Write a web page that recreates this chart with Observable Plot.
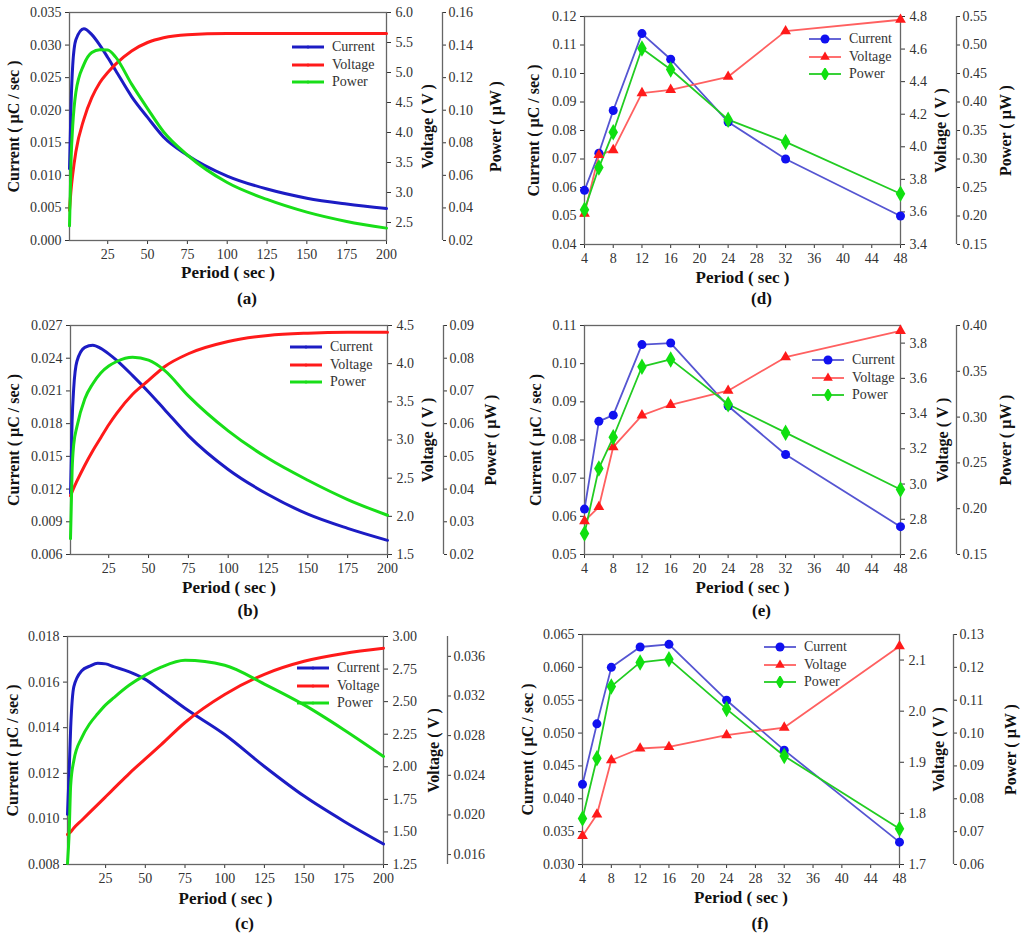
<!DOCTYPE html>
<html><head><meta charset="utf-8">
<script src="https://cdn.jsdelivr.net/npm/d3@7"></script>
<script src="https://cdn.jsdelivr.net/npm/@observablehq/plot@0.6"></script>
<style>
body{margin:0;background:#fff;}
#root{position:relative;width:1024px;height:941px;overflow:hidden;font-family:'Liberation Serif','Times New Roman',Times,'DejaVu Serif',serif;}
.panel{position:absolute;}
.legend{position:absolute;font-size:14px;color:#333;}
.legend .row{display:flex;align-items:center;height:17.5px;}
.legend svg{margin-right:8px;}
</style></head><body><div id="root"></div>
<script>
// ---------- data ----------
const periodCont = [1,2,3,5,10,15,20,25,30,40,50,60,75,100,125,150,175,200];
const periodDisc = [4,6,8,12,16,24,32,48];
const xTicksCont = [25,50,75,100,125,150,175,200];
const xTicksDisc = [4,8,12,16,20,24,28,32,36,40,44,48];
const seriesNames = ["Current","Voltage","Power"];

// (a)
const currentA = [0.0110,0.0210,0.0268,0.0308,0.0325,0.0316,0.0300,0.0281,0.0261,0.0221,0.0189,0.0159,0.0131,0.0099,0.0079,0.0065,0.0056,0.0049];
const voltageA = [2.70,3.05,3.30,3.68,4.22,4.58,4.83,5.00,5.14,5.36,5.50,5.58,5.63,5.65,5.65,5.65,5.65,5.65];
const powerA   = [0.029,0.070,0.090,0.111,0.128,0.1355,0.1372,0.137,0.1326,0.116,0.101,0.0868,0.0725,0.0556,0.0452,0.0374,0.0317,0.0276];
const curTicksA = [0,0.005,0.010,0.015,0.020,0.025,0.030,0.035];
const voltTicksA = [2.5,3.0,3.5,4.0,4.5,5.0,5.5,6.0];
const powTicksA = [0.02,0.04,0.06,0.08,0.10,0.12,0.14,0.16];

// (b)
const currentB = [0.0116,0.0182,0.0212,0.0237,0.0250,0.0252,0.0249,0.0244,0.0238,0.0224,0.0209,0.0193,0.0169,0.0138,0.0115,0.0097,0.0084,0.0073];
const voltageB = [2.27,2.32,2.37,2.46,2.67,2.86,3.03,3.20,3.35,3.60,3.78,3.96,4.13,4.29,4.37,4.40,4.41,4.41];
const powerB   = [0.0248,0.0455,0.0535,0.0590,0.0676,0.0722,0.0755,0.0776,0.0790,0.0803,0.0794,0.0763,0.0685,0.0578,0.0494,0.0427,0.0368,0.0320];
const curTicksB = [0.006,0.009,0.012,0.015,0.018,0.021,0.024,0.027];
const voltTicksB = [1.5,2.0,2.5,3.0,3.5,4.0,4.5];
const powTicksB = [0.02,0.03,0.04,0.05,0.06,0.07,0.08,0.09];

// (c)
const currentC = [0.0102,0.0120,0.0140,0.0158,0.0165,0.0167,0.01683,0.0168,0.01668,0.01645,0.01612,0.01562,0.01485,0.0137,0.0123,0.0110,0.0099,0.0089];
const voltageC = [1.48,1.49,1.50,1.53,1.59,1.65,1.71,1.77,1.83,1.95,2.06,2.17,2.34,2.555,2.71,2.81,2.87,2.91];
const powerC   = [0.0151,0.0180,0.0230,0.0255,0.0278,0.0292,0.0302,0.0311,0.0318,0.0331,0.0341,0.0349,0.0356,0.0351,0.0332,0.0311,0.0286,0.0259];
const curTicksC = [0.008,0.010,0.012,0.014,0.016,0.018];
const voltTicksC = [1.25,1.50,1.75,2.00,2.25,2.50,2.75,3.00];
const powTicksC = [0.016,0.020,0.024,0.028,0.032,0.036];

// (d)
const currentD = [0.059,0.072,0.087,0.114,0.105,0.083,0.070,0.050];
const voltageD = [3.59,3.95,3.98,4.33,4.35,4.43,4.71,4.78];
const powerD   = [0.211,0.285,0.347,0.494,0.457,0.369,0.330,0.239];
const curTicksD = [0.04,0.05,0.06,0.07,0.08,0.09,0.10,0.11,0.12];
const voltTicksD = [3.4,3.6,3.8,4.0,4.2,4.4,4.6,4.8];
const powTicksD = [0.15,0.20,0.25,0.30,0.35,0.40,0.45,0.50,0.55];

// (e)
const currentE = [0.0619,0.0849,0.0865,0.1050,0.1054,0.0889,0.0762,0.0573];
const voltageE = [2.79,2.87,3.21,3.39,3.45,3.53,3.72,3.87];
const powerE   = [0.173,0.244,0.278,0.355,0.363,0.314,0.283,0.221];
const curTicksE = [0.05,0.06,0.07,0.08,0.09,0.10,0.11];
const voltTicksE = [2.6,2.8,3.0,3.2,3.4,3.6,3.8];
const powTicksE = [0.15,0.20,0.25,0.30,0.35,0.40];

// (f)
const currentF = [0.0422,0.0514,0.0600,0.0631,0.0635,0.0550,0.0474,0.0334];
const voltageF = [1.756,1.798,1.904,1.927,1.930,1.953,1.968,2.127];
const powerF   = [0.0740,0.0923,0.1142,0.1215,0.1225,0.1073,0.0930,0.0709];
const curTicksF = [0.030,0.035,0.040,0.045,0.050,0.055,0.060,0.065];
const voltTicksF = [1.7,1.8,1.9,2.0,2.1];
const powTicksF = [0.06,0.07,0.08,0.09,0.10,0.11,0.12,0.13];

// ---------- panels ----------
const panels = [
  {cap:"(a)", left:0, top:0, width:512, height:312, frame:[69,386,12,240], x:periodCont, xDomain:[1,200], xTicks:xTicksCont,
   cur:currentA, volt:voltageA, pow:powerA, curDomain:[0,0.035], curTicks:curTicksA, curFmt:".3f",
   voltDomain:[2.2,6.0], voltTicks:voltTicksA, voltFmt:".1f", powDomain:[0.02,0.16], powTicks:powTicksA, powFmt:".2f",
   powAxis:442, curTitle:13, voltTitle:427, powTitle:495, periodY:277, capY:303, markers:false, legend:[292,47]},
  {cap:"(b)", left:0, top:312, width:512, height:310, frame:[70,387,325,554], x:periodCont, xDomain:[1,200], xTicks:xTicksCont,
   cur:currentB, volt:voltageB, pow:powerB, curDomain:[0.006,0.027], curTicks:curTicksB, curFmt:".3f",
   voltDomain:[1.5,4.5], voltTicks:voltTicksB, voltFmt:".1f", powDomain:[0.02,0.09], powTicks:powTicksB, powFmt:".2f",
   powAxis:443, curTitle:13, voltTitle:427, powTitle:490, periodY:592, capY:615, markers:false, legend:[290,347]},
  {cap:"(c)", left:0, top:622, width:512, height:319, frame:[67,383,636,864], x:periodCont, xDomain:[1,200], xTicks:xTicksCont,
   cur:currentC, volt:voltageC, pow:powerC, curDomain:[0.008,0.018], curTicks:curTicksC, curFmt:".3f",
   voltDomain:[1.25,3.0], voltTicks:voltTicksC, voltFmt:".2f", powDomain:[0.015,0.038], powTicks:powTicksC, powFmt:".3f",
   powAxis:447, curTitle:12, voltTitle:433, powTitle:null, periodY:903, capY:928, markers:false, legend:[297,668]},
  {cap:"(d)", left:512, top:0, width:512, height:312, frame:[584,900,16,244], x:periodDisc, xDomain:[4,48], xTicks:xTicksDisc,
   cur:currentD, volt:voltageD, pow:powerD, curDomain:[0.04,0.12], curTicks:curTicksD, curFmt:".2f",
   voltDomain:[3.4,4.8], voltTicks:voltTicksD, voltFmt:".1f", powDomain:[0.15,0.55], powTicks:powTicksD, powFmt:".2f",
   powAxis:956, curTitle:533, voltTitle:940, powTitle:1005, periodY:282, capY:303, markers:true, legend:[809,39]},
  {cap:"(e)", left:512, top:312, width:512, height:310, frame:[584,900,325,554], x:periodDisc, xDomain:[4,48], xTicks:xTicksDisc,
   cur:currentE, volt:voltageE, pow:powerE, curDomain:[0.05,0.11], curTicks:curTicksE, curFmt:".2f",
   voltDomain:[2.6,3.9], voltTicks:voltTicksE, voltFmt:".1f", powDomain:[0.15,0.40], powTicks:powTicksE, powFmt:".2f",
   powAxis:956, curTitle:535, voltTitle:942, powTitle:1005, periodY:592, capY:615, markers:true, legend:[812,360]},
  {cap:"(f)", left:512, top:622, width:512, height:319, frame:[582,899,634,864], x:periodDisc, xDomain:[4,48], xTicks:xTicksDisc,
   cur:currentF, volt:voltageF, pow:powerF, curDomain:[0.030,0.065], curTicks:curTicksF, curFmt:".3f",
   voltDomain:[1.7,2.15], voltTicks:voltTicksF, voltFmt:".1f", powDomain:[0.06,0.13], powTicks:powTicksF, powFmt:".2f",
   powAxis:953, curTitle:527, voltTitle:938, powTitle:1010, periodY:902, capY:928, markers:true, legend:[764,647]}
];

const contColors = {c:"#1c1cc4", v:"#ff1a1a", p:"#18de18"};
const lineColors = {c:"#5555d2", v:"#ff6060", p:"#22cc22"};
const dotColors  = {c:"#1010f0", v:"#ff1a1a", p:"#10e010"};

const root = document.getElementById("root");
const font = "'Liberation Serif', 'Times New Roman', Times, 'DejaVu Serif', serif";

function makePanel(cfg) {
  const [fx0, fx1, fy0, fy1] = cfg.frame;
  const mL = fx0 - cfg.left, mR = cfg.left + cfg.width - fx1;
  const mT = fy0 - cfg.top, mB = cfg.top + cfg.height - fy1;
  const yD = cfg.curDomain;
  const vMap = d3.scaleLinear(cfg.voltDomain, yD);
  const pMap = d3.scaleLinear(cfg.powDomain, yD);
  const rows = cfg.x.map((x, i) => ({x, c: cfg.cur[i], v: vMap(cfg.volt[i]), p: pMap(cfg.pow[i])}));
  const cFmt = d3.format(cfg.curFmt), vFmt = d3.format(cfg.voltFmt), pFmt = d3.format(cfg.powFmt);
  const powDx = cfg.powAxis - fx1;
  const axisStyle = {fontSize: 14, color: "#333", label: null, fontFamily: font};
  const marks = [
    Plot.axisX(cfg.xTicks, {...axisStyle, anchor: "bottom", tickSize: 4, tickPadding: 5}),
    Plot.axisY(cfg.curTicks, {...axisStyle, anchor: "left", tickSize: 4, tickPadding: 4, tickFormat: cFmt}),
    Plot.axisY(cfg.voltTicks.map(vMap), {...axisStyle, anchor: "right", tickSize: 4, tickPadding: 5, tickFormat: d => vFmt(vMap.invert(d))}),
    Plot.axisY(cfg.powTicks.map(pMap), {...axisStyle, anchor: "right", dx: powDx, tickSize: 3, tickPadding: 3, tickFormat: d => pFmt(pMap.invert(d))}),
    Plot.ruleX([cfg.xDomain[1]], {y1: yD[0], y2: yD[1], dx: powDx, stroke: "#666", strokeWidth: 1.3}),
    Plot.frame({stroke: "#666", strokeWidth: 1.3})
  ];
  if (!cfg.markers) {
    for (const k of ["c", "v", "p"]) {
      marks.push(Plot.line(rows, {x: "x", y: k, stroke: contColors[k], strokeWidth: 3, curve: "monotone-x"}));
    }
  } else {
    for (const k of ["c", "v", "p"]) {
      marks.push(Plot.line(rows, {x: "x", y: k, stroke: lineColors[k], strokeWidth: 1.8}));
    }
    marks.push(Plot.dot(rows, {x: "x", y: "c", r: 4.5, fill: dotColors.c, symbol: "circle"}));
    marks.push(Plot.dot(rows, {x: "x", y: "v", r: 4, fill: dotColors.v, symbol: "triangle"}));
    marks.push(Plot.dot(rows, {x: "x", y: "p", r: 5, fill: dotColors.p, symbol: "diamond"}));
  }
  const titleStyle = {fontSize: 16, fontWeight: "bold", fill: "#111", fontFamily: font, textAnchor: "middle"};
  marks.push(Plot.text(["Period ( sec )"], {...titleStyle, fontSize: 17, frameAnchor: "bottom", dy: cfg.periodY - fy1}));
  marks.push(Plot.text([cfg.cap], {...titleStyle, fontSize: 17, frameAnchor: "bottom", dx: 19, dy: cfg.capY - fy1}));
  marks.push(Plot.text(["Current ( µC / sec )"], {...titleStyle, frameAnchor: "left", rotate: -90, dx: cfg.curTitle - fx0}));
  marks.push(Plot.text(["Voltage ( V )"], {...titleStyle, frameAnchor: "right", rotate: -90, dx: cfg.voltTitle - fx1}));
  if (cfg.powTitle != null) marks.push(Plot.text(["Power ( µW )"], {...titleStyle, frameAnchor: "right", rotate: -90, dx: cfg.powTitle - fx1}));

  const svg = Plot.plot({
    width: cfg.width, height: cfg.height,
    marginLeft: mL, marginRight: mR, marginTop: mT, marginBottom: mB,
    x: {domain: cfg.xDomain},
    y: {domain: yD},
    style: {fontFamily: font, fontSize: "14px", background: "transparent", overflow: "visible"},
    marks
  });
  const div = document.createElement("div");
  div.className = "panel";
  div.style.left = cfg.left + "px";
  div.style.top = cfg.top + "px";
  div.appendChild(svg);
  root.appendChild(div);

  // legend
  const lg = document.createElement("div");
  lg.className = "legend";
  lg.style.left = cfg.legend[0] + "px";
  lg.style.top = (cfg.legend[1] - 8.75) + "px";
  ["c", "v", "p"].forEach((k, i) => {
    const row = document.createElement("div");
    row.className = "row";
    const s = d3.create("svg").attr("width", 32).attr("height", 12);
    if (!cfg.markers) {
      s.append("line").attr("x1", 0).attr("x2", 32).attr("y1", 6).attr("y2", 6).attr("stroke", contColors[k]).attr("stroke-width", 3);
      s.append("circle").attr("cx", 16).attr("cy", 6).attr("r", 1.5).attr("fill", contColors[k]);
    } else {
      s.append("line").attr("x1", 0).attr("x2", 32).attr("y1", 6).attr("y2", 6).attr("stroke", lineColors[k]).attr("stroke-width", 1.8);
      const sym = k === "c" ? d3.symbolCircle : k === "v" ? d3.symbolTriangle : d3.symbolDiamond;
      const size = k === "c" ? Math.PI * 4.5 * 4.5 : k === "v" ? 40 : 60;
      s.append("path").attr("transform", "translate(16,6)").attr("d", d3.symbol(sym, size)()).attr("fill", dotColors[k]);
    }
    row.appendChild(s.node());
    const t = document.createElement("span");
    t.textContent = seriesNames[i];
    row.appendChild(t);
    lg.appendChild(row);
  });
  root.appendChild(lg);
}
panels.forEach(makePanel);
</script>
</body></html>
